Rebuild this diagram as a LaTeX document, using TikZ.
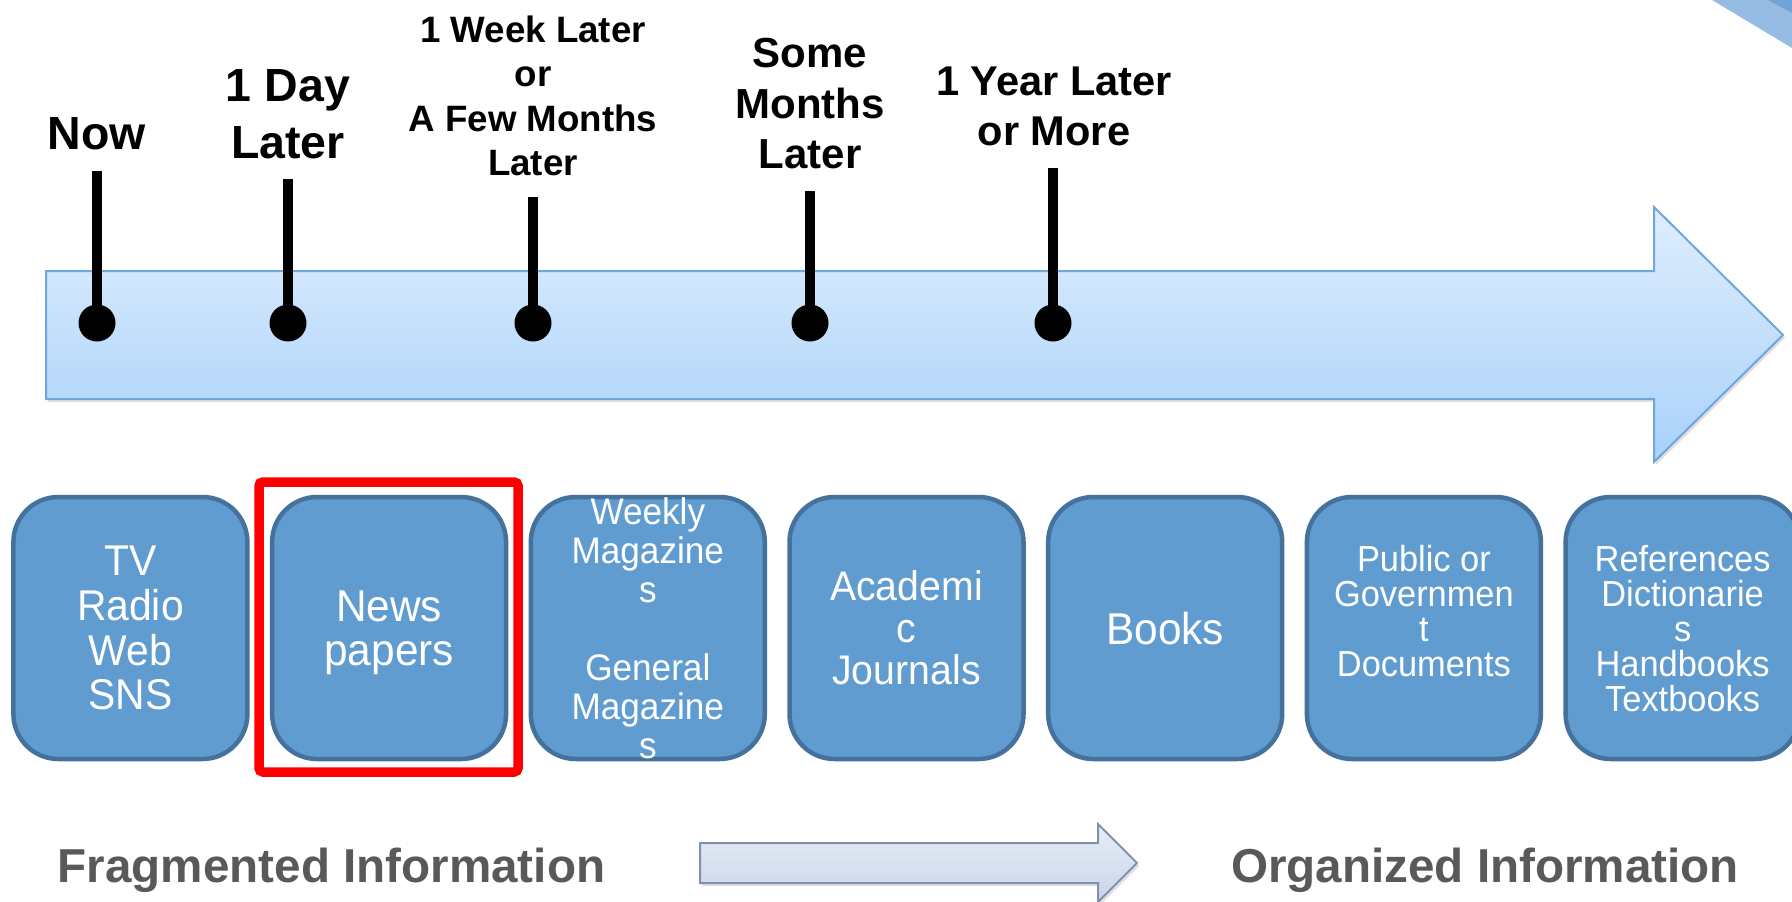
\documentclass[tikz,border=0pt]{standalone}
\usepackage{fontspec}
\setmainfont{Liberation Sans}
\newfontfamily\boxfont[FakeStretch=0.95]{Liberation Sans}
\usetikzlibrary{shadows}
\definecolor{boxfill}{HTML}{619CD1}
\definecolor{boxline}{HTML}{44729D}
\definecolor{arrtop}{HTML}{DFEEFD}
\definecolor{arrbot}{HTML}{A8D1FA}
\definecolor{arrline}{HTML}{6FA6DB}
\definecolor{smtop}{HTML}{E7EDF8}
\definecolor{smbot}{HTML}{CAD5E9}
\definecolor{smline}{HTML}{8093AE}
\definecolor{graytext}{HTML}{595959}
\definecolor{cornlight}{HTML}{96BCE4}
\definecolor{corndark}{HTML}{6EA4D8}
\newcommand{\fsz}[2]{\fontsize{#1pt}{#2pt}\selectfont}
\begin{document}
\begin{tikzpicture}[x=1pt,y=-1pt,
  medbox/.style={draw=boxline, fill=boxfill, line width=4.5pt, rounded corners=45pt,
    minimum width=234pt, minimum height=262pt, inner sep=0pt,
    text=white, align=center, text depth=0pt},
  timelabel/.style={align=center, text depth=0pt, inner sep=0pt},
  pinline/.style={line width=10pt, black},
  pindot/.style={circle, fill=black, minimum size=37pt, inner sep=0pt},
  endlabel/.style={font=\bfseries\fsz{47.6}{55}, text=graytext, text depth=0pt, inner sep=0pt},
  bigarrow/.style={top color=arrtop, bottom color=arrbot, draw=arrline, line width=2pt,
    drop shadow={opacity=0.25, shadow xshift=2pt, shadow yshift=-3pt}},
  smallarrow/.style={top color=smtop, bottom color=smbot, draw=smline, line width=2pt,
    drop shadow={opacity=0.25, shadow xshift=2pt, shadow yshift=-3pt}},
  focusframe/.style={draw=red, line width=9.5pt, rounded corners=4pt,
    minimum width=259pt, minimum height=290pt, inner sep=0pt}]
\useasboundingbox (0,0) rectangle (1792,902);
\clip (0,0) rectangle (1792,902);

% corner decoration
\fill[cornlight] (1712,0) -- (1792,48) -- (1792,0) -- cycle;
\fill[corndark] (1768,0) -- (1792,13) -- (1792,0) -- cycle;

% big timeline arrow
\path[bigarrow] (46,271) -- (1654,271) -- (1654,207) -- (1783,335) -- (1654,462)
  -- (1654,399) -- (46,399) -- cycle;

% pins
\node[pindot] (dnow) at (97,323) {};
\node[pindot] (dday) at (288,323) {};
\node[pindot] (dweek) at (533,323) {};
\node[pindot] (dmonths) at (810,323) {};
\node[pindot] (dyear) at (1053,323) {};
\coordinate (tnow) at (97,171);
\coordinate (tday) at (288,179);
\coordinate (tweek) at (533,197);
\coordinate (tmonths) at (810,191);
\coordinate (tyear) at (1053,168);
\draw[pinline] (tnow) -- (dnow.center);
\draw[pinline] (tday) -- (dday.center);
\draw[pinline] (tweek) -- (dweek.center);
\draw[pinline] (tmonths) -- (dmonths.center);
\draw[pinline] (tyear) -- (dyear.center);

% time labels
\node[timelabel, font=\bfseries\fsz{46.5}{57}] (lnow) at (97,134) {Now};
\node[timelabel, font=\bfseries\fsz{46.5}{57}] (lday) at (288,114.5) {1 Day\\Later};
\node[timelabel, font=\bfseries\fsz{36.7}{44.5}] (lweek) at (533,95.5) {1 Week Later\\or\\A Few Months\\Later};
\node[timelabel, font=\bfseries\fsz{42}{50.5}] (lmonths) at (810,103.5) {Some\\Months\\Later};
\node[timelabel, font=\bfseries\fsz{41.6}{50}] (lyear) at (1054,106) {1 Year Later\\or More};

% media boxes
\node[medbox, font=\boxfont\fsz{43}{44.6}] (b1) at (130.4,628) {TV\\Radio\\Web\\SNS};
\node[medbox, font=\boxfont\fsz{44.6}{44.6}] (b2) at (389.1,628) {News\\papers};
\node[medbox, font=\boxfont\fsz{37}{39}] (b3) at (647.8,628) {Weekly\\Magazine\\s\\\mbox{}\\General\\Magazine\\s};
\node[medbox, font=\boxfont\fsz{41.3}{42}] (b4) at (906.5,628) {Academi\\c\\Journals};
\node[medbox, font=\boxfont\fsz{44.6}{44.6}] (b5) at (1165.2,628) {Books};
\node[medbox, font=\boxfont\fsz{36.2}{35}] (b6) at (1423.9,628) {Public or\\Governmen\\t\\Documents\\\mbox{}};
\node[medbox, font=\boxfont\fsz{36.2}{35}] (b7) at (1682.6,628) {References\\Dictionarie\\s\\Handbooks\\Textbooks};

% highlight frame
\node[focusframe] (focus) at (388.5,627) {};

% bottom labels and arrow
\node[endlabel] (frag) at (331.5,865) {Fragmented Information};
\node[endlabel] (org) at (1485,865) {Organized Information};
\path[smallarrow] (700,843) -- (1098,843) -- (1098,824) -- (1137,863) -- (1098,902)
  -- (1098,883) -- (700,883) -- cycle;
\end{tikzpicture}
\end{document}
